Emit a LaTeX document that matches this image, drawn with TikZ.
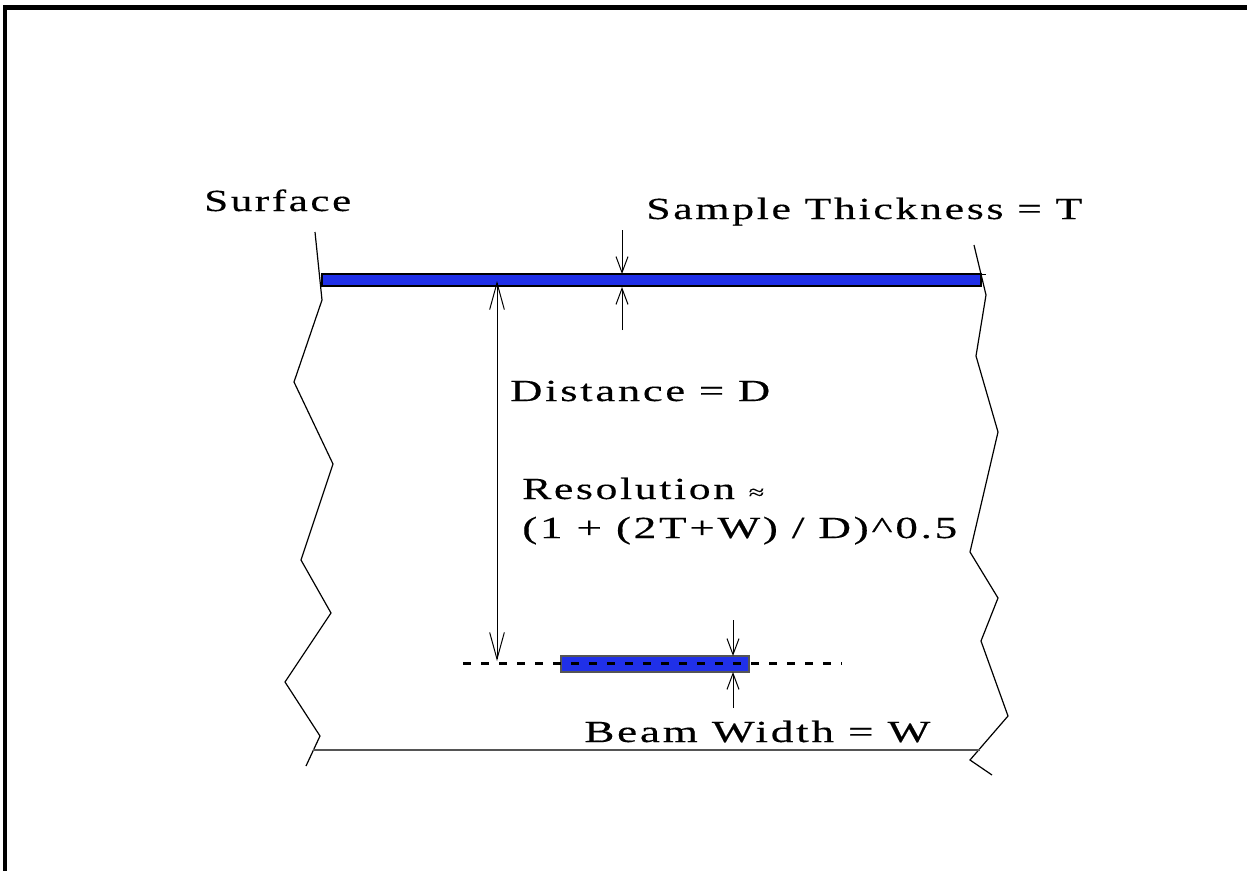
\documentclass[tikz,border=0pt]{standalone}
\usepackage{fontspec}
\usepackage{graphicx}
\setmainfont[LetterSpace=6,FakeBold=0.3]{Liberation Serif}
\usetikzlibrary{arrows.meta}
\definecolor{barblue}{RGB}{32,48,232}
\definecolor{edgegray}{RGB}{85,85,85}
\newlength\fitlen
\newcommand\fitx[2]{\settowidth\fitlen{#2}\pgfmathsetmacro\fitratio{#1*0.75/\fitlen}\scalebox{\fitratio}[1]{#2}}
\begin{document}
\begin{tikzpicture}[x=0.75pt,y=-0.75pt,
  lbl/.style={anchor=base west,inner sep=0pt,font=\fontsize{23}{27}\selectfont},
  edge/.style={line width=0.9pt,line join=miter},
  dimline/.style={line width=0.75pt},
  bigbarb/.style={-{Straight Barb[length=20pt,width=11pt,line width=0.75pt]}},
  smallbarb/.style={-{Straight Barb[length=12pt,width=9pt,line width=0.75pt]}},
  bar/.style={fill=barblue,draw=black,line width=0.8pt}]
\useasboundingbox (0,0) rectangle (1247,871);
% frame
\draw[line width=3.6pt,line join=miter] (5,871) -- (5,7.5) -- (1247,7.5);
% left break line
\draw[edge] (315,232) -- (322,300) -- (294,382) -- (333,464) -- (301,560) -- (331,613) -- (285,682) -- (320,736) -- (306,766);
% right break line
\draw[edge] (974,245) -- (986,295) -- (976,356) -- (998,432) -- (970,552) -- (998,598) -- (981,641) -- (1008,716) -- (970,760) -- (992,775);
% bottom line
\draw[line width=1.2pt,edgegray] (313,750) -- (980,750);
% sample bar
\draw[bar] (322,274) rectangle (981,286);
\draw[line width=0.6pt] (981,274) -- (986,274);
% beam bar
\draw[fill=barblue,draw=edgegray,line width=0.8pt] (561,656) rectangle (749,672);
\draw[line width=1.8pt,dash pattern=on 6pt off 7.5pt] (463,663.5) -- (842,663.5);
% distance arrow
\coordinate (dtop) at (497,281);
\coordinate (dbot) at (497,661);
\draw[dimline,bigbarb] (497,470) -- (dtop);
\draw[dimline,bigbarb] (497,470) -- (dbot);
% thickness arrows
\coordinate (ta) at (622,230);
\coordinate (tb) at (622,274);
\coordinate (tc) at (622,330);
\coordinate (td) at (622,287);
\draw[dimline,smallbarb] (ta) -- (tb);
\draw[dimline,smallbarb] (tc) -- (td);
% beam width arrows
\coordinate (wa) at (733,620);
\coordinate (wb) at (733,656);
\coordinate (wc) at (733,708);
\coordinate (wd) at (733,672);
\draw[dimline,smallbarb] (wa) -- (wb);
\draw[dimline,smallbarb] (wc) -- (wd);
% labels
\node[lbl] (surf) at (204,211) {\fitx{147}{Surface}};
\node[lbl] (thick) at (646,219) {\fitx{436}{Sample Thickness = T}};
\node[lbl] (dist) at (510,401) {\fitx{260}{Distance = D}};
\node[lbl] (res1) at (522,499) {\fitx{242}{Resolution {\fontsize{15}{15}\selectfont ≈}}};
\node[lbl] (res2) at (522,538) {\fitx{435}{(1 + (2T+W) / D)\^{}0.5}};
\node[lbl] (beam) at (584,742) {\fitx{346}{Beam Width = W}};
\end{tikzpicture}
\end{document}
